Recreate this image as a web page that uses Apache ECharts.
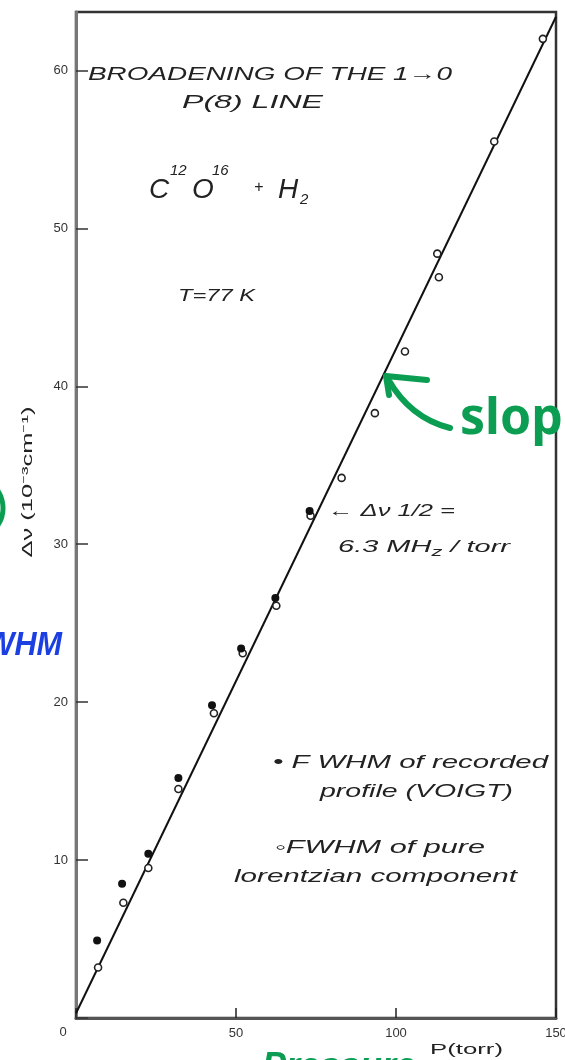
<!DOCTYPE html>
<html><head><meta charset="utf-8">
<script src="https://cdn.jsdelivr.net/npm/echarts@6/dist/echarts.min.js"></script>
<style>html,body{margin:0;padding:0;background:#fff}#c{width:565px;height:1060px}</style>
</head><body><div id="c"></div>
<script>
// ---- data ----
const voigtP = [6.6, 14.4, 22.6, 32.0, 42.5, 51.6, 62.3, 73.0];
const voigtW = [4.9, 8.5, 10.4, 15.2, 19.8, 23.4, 26.6, 32.1];
const lorentzP = [6.9, 14.8, 22.6, 32.0, 43.1, 52.1, 62.6, 73.3, 83.0, 93.4, 102.8, 112.9, 113.4, 130.7, 145.9];
const lorentzW = [3.2, 7.3, 9.5, 14.5, 19.3, 23.1, 26.1, 31.8, 34.2, 38.3, 42.2, 48.4, 46.9, 55.5, 62.0];
const fitP = [0, 150];
const fitW = [0.3, 63.4];
const xTicks = [50, 100, 150];
const yTicks = [10, 20, 30, 40, 50, 60];

const FONT = '"Liberation Sans", Arial, sans-serif';
const mctx = document.createElement('canvas').getContext('2d');
function tw(t, size, style, weight, fam) {
  mctx.font = (style || 'normal') + ' ' + (weight || 'normal') + ' ' + size + 'px ' + (fam || FONT);
  return mctx.measureText(t).width;
}
function fitText(t, left, cy, width, size, o) {
  o = o || {};
  const st = o.style || 'italic';
  const w = tw(t, size, st, o.weight);
  return { type: 'text', x: left, y: cy, scaleX: width / w, z: 100,
    style: { text: t, fontSize: size, fontFamily: FONT, fontStyle: st, fontWeight: o.weight || 'normal',
      fill: o.fill || '#222', textAlign: 'left', textVerticalAlign: 'middle' } };
}
function piece(t, x, cy, size) {
  return { type: 'text', x: x, y: cy, z: 100,
    style: { text: t, fontSize: size, fontFamily: FONT, fontStyle: 'italic', fill: '#222',
      textAlign: 'left', textVerticalAlign: 'middle' } };
}
function seq(pieces, left, cy, width, o) {
  o = o || {};
  const ws = pieces.map(p => tw(p.t, p.size, 'italic'));
  const s = width / ws.reduce((a, b) => a + b, 0);
  let cur = left;
  return pieces.map((p, i) => {
    const el = { type: 'text', x: cur, y: cy + (p.dy || 0), scaleX: s, z: 100,
      style: { text: p.t, fontSize: p.size, fontFamily: FONT, fontStyle: 'italic',
        fill: o.fill || '#222', textAlign: 'left', textVerticalAlign: 'middle' } };
    cur += ws[i] * s;
    return el;
  });
}

const yName = 'Δν (10⁻³cm⁻¹)';
const yNameW = tw(yName, 14, 'normal');
const green = '#0b9e52';

const graphics = [].concat(
  [fitText('BROADENING OF THE 1→0', 88, 75, 364, 19)],
  [fitText('P(8) LINE', 182, 103, 141, 18)],
  [piece('C', 149, 190, 28), piece('12', 170, 171, 15), piece('O', 192, 190, 28), piece('16', 212, 171, 15),
   piece('+', 254, 188, 16), piece('H', 278, 190, 28), piece('2', 300, 200, 15)],
  [fitText('T=77 K', 178, 296, 77, 17)],
  [fitText('← Δν 1/2 =', 328, 512, 127, 16)],
  seq([{t:'6.3 MH', size:16}, {t:'z', size:12, dy:5}, {t:' / torr', size:16}], 338, 548, 172),
  [fitText('• F WHM of recorded', 273, 763, 275, 18)],
  [fitText('profile (VOIGT)', 320, 792, 193, 18)],
  [fitText('◦FWHM of pure', 275, 848, 210, 18)],
  [fitText('lorentzian component', 234, 877, 283, 18)],
  [fitText('P(torr)', 430, 1050, 73, 14, {style:'normal'})],
  [{ type: 'text', x: 63, y: 1032, z: 100,
     style: { text: '0', fontSize: 13, fontFamily: FONT, fill: '#333', textAlign: 'center', textVerticalAlign: 'middle' } }],
  [{ type: 'text', x: 28, y: 482, rotation: Math.PI / 2, scaleX: 151 / yNameW, z: 100,
     style: { text: yName, fontSize: 14, fontFamily: FONT, fill: '#222', textAlign: 'center', textVerticalAlign: 'middle' } }],
  // handwritten annotations
  [{ type: 'bezierCurve', z: 110, shape: { x1: 450, y1: 428, x2: 388, y2: 379, cpx1: 410, cpy1: 418 },
     style: { stroke: green, lineWidth: 6, lineCap: 'round', fill: null } }],
  [{ type: 'polyline', z: 110, shape: { points: [[427, 380], [386, 376], [389, 395]] },
     style: { stroke: green, lineWidth: 6, lineCap: 'round', lineJoin: 'round', fill: null } }],
  [{ type: 'text', x: 460, y: 420, scaleX: 1.25, scaleY: 1.25, z: 110,
     style: { text: 'slope', fontSize: 40, fontWeight: 'bold', fontFamily: '"Noto Sans", sans-serif', fill: green, textAlign: 'left', textVerticalAlign: 'middle' } }],
  [{ type: 'text', x: 62, y: 646, scaleX: 0.9, z: 110,
     style: { text: 'FWHM', fontSize: 34, fontWeight: 'bold', fontStyle: 'italic', fontFamily: FONT, fill: '#1b3fe0', textAlign: 'right', textVerticalAlign: 'middle' } }],
  [{ type: 'text', x: 262, y: 1068, z: 110,
     style: { text: 'Pressure', fontSize: 36, fontWeight: 'bold', fontStyle: 'italic', fontFamily: FONT, fill: green, textAlign: 'left', textVerticalAlign: 'middle' } }],
  [{ type: 'arc', z: 110, shape: { cx: -28, cy: 508, r: 31, startAngle: -0.9, endAngle: 0.9 },
     style: { stroke: green, lineWidth: 5, fill: null } }]
);

const chart = echarts.init(document.getElementById('c'), null, { renderer: 'canvas' });
chart.setOption({
  animation: false,
  backgroundColor: '#fff',
  grid: { left: 76, right: 9, top: 12, bottom: 42, outerBoundsMode: 'none', containLabel: false,
    show: true, borderColor: '#333', borderWidth: 2.5, backgroundColor: 'transparent' },
  xAxis: {
    type: 'value', min: 0, max: 150, interval: 50,
    axisLine: { show: true, onZero: false, lineStyle: { color: '#555', width: 3 } },
    axisTick: { show: true, inside: true, length: 10, lineStyle: { color: '#222', width: 1.5 } },
    axisLabel: { margin: 9, fontSize: 13, color: '#333', fontFamily: FONT,
      formatter: v => xTicks.indexOf(v) >= 0 ? String(v) : '' },
    splitLine: { show: false }
  },
  yAxis: {
    type: 'value', min: 0, max: 63.7, interval: 10,
    axisLine: { show: true, onZero: false, lineStyle: { color: '#777', width: 3 } },
    axisTick: { show: true, inside: true, length: 12, lineStyle: { color: '#333', width: 1.5 } },
    axisLabel: { margin: 8, fontSize: 13, color: '#333', fontFamily: FONT, showMaxLabel: false,
      formatter: v => yTicks.indexOf(v) >= 0 ? String(v) : '' },
    splitLine: { show: false }
  },
  series: [
    { type: 'line', z: 2, data: fitP.map((p, i) => [p, fitW[i]]), symbol: 'none',
      lineStyle: { color: '#111', width: 2 } },
    { type: 'scatter', z: 3, data: lorentzP.map((p, i) => [p, lorentzW[i]]), symbol: 'circle', symbolSize: 7,
      itemStyle: { color: '#fff', borderColor: '#222', borderWidth: 1.6, opacity: 1 } },
    { type: 'scatter', z: 4, data: voigtP.map((p, i) => [p, voigtW[i]]), symbol: 'circle', symbolSize: 8,
      itemStyle: { color: '#111', opacity: 1 } }
  ],
  graphic: graphics
});
</script></body></html>
